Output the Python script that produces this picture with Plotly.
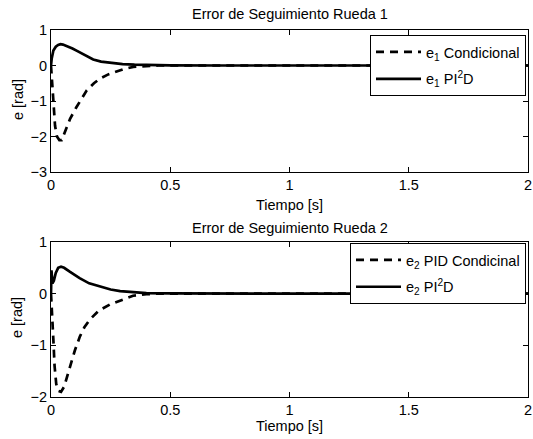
import plotly.graph_objects as go

# Wheel 1
t1_cond = [0, 0.003, 0.008, 0.012, 0.017, 0.025, 0.035, 0.045, 0.06, 0.08, 0.107, 0.13, 0.15, 0.18, 0.205, 0.24, 0.275, 0.31, 0.345, 0.4, 0.45, 0.6, 1.0, 1.5, 2.0]
e1_cond = [0, -0.3, -0.8, -1.2, -1.7, -2.0, -2.1, -2.1, -1.85, -1.5, -1.17, -0.9, -0.7, -0.5, -0.37, -0.25, -0.16, -0.09, -0.04, -0.015, 0, 0, 0, 0, 0]
t1_pi2d = [0, 0.003, 0.01, 0.02, 0.03, 0.04, 0.05, 0.07, 0.09, 0.107, 0.13, 0.15, 0.177, 0.21, 0.26, 0.3, 0.35, 0.4, 0.5, 0.7, 1.0, 1.5, 2.0]
e1_pi2d = [0, 0.2, 0.42, 0.53, 0.58, 0.6, 0.59, 0.54, 0.48, 0.42, 0.33, 0.26, 0.17, 0.11, 0.07, 0.04, 0.025, 0.015, 0.005, 0, 0, 0, 0]

# Wheel 2
t2_cond = [0, 0.004, 0.01, 0.015, 0.022, 0.03, 0.042, 0.055, 0.08, 0.1, 0.121, 0.14, 0.163, 0.2, 0.247, 0.3, 0.344, 0.4, 0.45, 0.6, 1.0, 1.5, 2.0]
e2_cond = [0, -0.3, -0.9, -1.4, -1.75, -1.88, -1.9, -1.8, -1.4, -1.1, -0.83, -0.65, -0.5, -0.33, -0.21, -0.11, -0.04, -0.01, 0, 0, 0, 0, 0]
t2_pi2d = [0, 0.002, 0.006, 0.012, 0.02, 0.03, 0.042, 0.055, 0.08, 0.12, 0.16, 0.205, 0.25, 0.29, 0.35, 0.4, 0.5, 0.7, 1.0, 1.5, 2.0]
e2_pi2d = [0, 0.45, 0.2, 0.25, 0.4, 0.5, 0.52, 0.5, 0.42, 0.3, 0.2, 0.14, 0.08, 0.05, 0.025, 0.012, 0.004, 0, 0, 0, 0]

x_ticks = [0, 0.5, 1, 1.5, 2]
y1_ticks = [-3, -2, -1, 0, 1]
y2_ticks = [-2, -1, 0, 1]

W, H = 533, 439
FONT = "Liberation Sans, Arial, sans-serif"
FS = 14.5

fig = go.Figure()
dash = "8px,6px"
fig.add_trace(go.Scatter(x=t1_cond, y=e1_cond, mode="lines", name="e<sub>1</sub> Condicional", legendgroup="a",
                         line=dict(color="black", width=2.7, dash=dash), xaxis="x", yaxis="y", legend="legend"))
fig.add_trace(go.Scatter(x=t1_pi2d, y=e1_pi2d, mode="lines", name="e<sub>1</sub> PI<sup>2</sup>D", legendgroup="b",
                         line=dict(color="black", width=2.7), xaxis="x", yaxis="y", legend="legend"))
fig.add_trace(go.Scatter(x=t2_cond, y=e2_cond, mode="lines", name="e<sub>2</sub> PID Condicinal", legendgroup="c",
                         line=dict(color="black", width=2.7, dash=dash), xaxis="x2", yaxis="y2", legend="legend2"))
fig.add_trace(go.Scatter(x=t2_pi2d, y=e2_pi2d, mode="lines", name="e<sub>2</sub> PI<sup>2</sup>D", legendgroup="d",
                         line=dict(color="black", width=2.7), xaxis="x2", yaxis="y2", legend="legend2"))

xd = [51 / W, 528 / W]
top_dom = [1 - 172 / H, 1 - 30 / H]
bot_dom = [1 - 397 / H, 1 - 242 / H]

axcommon = dict(showline=True, linecolor="black", linewidth=1, mirror="ticks", ticks="inside",
                ticklen=5, tickcolor="black", showgrid=False, zeroline=False, automargin=False,
                tickfont=dict(family=FONT, size=FS, color="black"))

legcommon = dict(xanchor="right", yanchor="top", bgcolor="white", bordercolor="black", borderwidth=1,
                 font=dict(family=FONT, size=FS, color="black"), traceorder="grouped", tracegroupgap=5,
                 itemwidth=45)

fig.update_layout(
    template="none",
    width=W, height=H, margin=dict(l=0, r=0, t=0, b=0, pad=0), autosize=False,
    paper_bgcolor="white", plot_bgcolor="white",
    font=dict(family=FONT, size=FS, color="black"),
    xaxis=dict(domain=xd, range=[0, 2], tickvals=x_ticks, anchor="y", **axcommon),
    yaxis=dict(domain=top_dom, range=[-3, 1], tickvals=y1_ticks, anchor="x", **axcommon),
    xaxis2=dict(domain=xd, range=[0, 2], tickvals=x_ticks, anchor="y2", **axcommon),
    yaxis2=dict(domain=bot_dom, range=[-2, 1], tickvals=y2_ticks, anchor="x2", **axcommon),
    legend=dict(x=526 / W, y=1 - 35 / H, **legcommon),
    legend2=dict(x=526 / W, y=1 - 243 / H, **legcommon),
    showlegend=True,
)

ann = [
    dict(text="Error de Seguimiento Rueda 1", x=289.5 / W, y=1 - 13.5 / H),
    dict(text="Error de Seguimiento Rueda 2", x=289.5 / W, y=1 - 227.5 / H),
    dict(text="Tiempo [s]", x=289.5 / W, y=1 - 205 / H),
    dict(text="Tiempo [s]", x=289.5 / W, y=1 - 426 / H),
]
for a in ann:
    fig.add_annotation(xref="paper", yref="paper", x=a["x"], y=a["y"], text=a["text"], showarrow=False,
                       xanchor="center", yanchor="middle", font=dict(family=FONT, size=FS, color="black"))
fig.add_annotation(xref="paper", yref="paper", x=18 / W, y=1 - 100 / H, text="e [rad]", textangle=-90,
                   xanchor="center", yanchor="middle",
                   showarrow=False, font=dict(family=FONT, size=FS, color="black"))
fig.add_annotation(xref="paper", yref="paper", x=17 / W, y=1 - 318 / H, text="e [rad]", textangle=-90,
                   xanchor="center", yanchor="middle",
                   showarrow=False, font=dict(family=FONT, size=FS, color="black"))

fig.write_html("out.html", config={"displayModeBar": False},
               post_script="document.body.style.margin='0';document.body.style.overflow='hidden';")
